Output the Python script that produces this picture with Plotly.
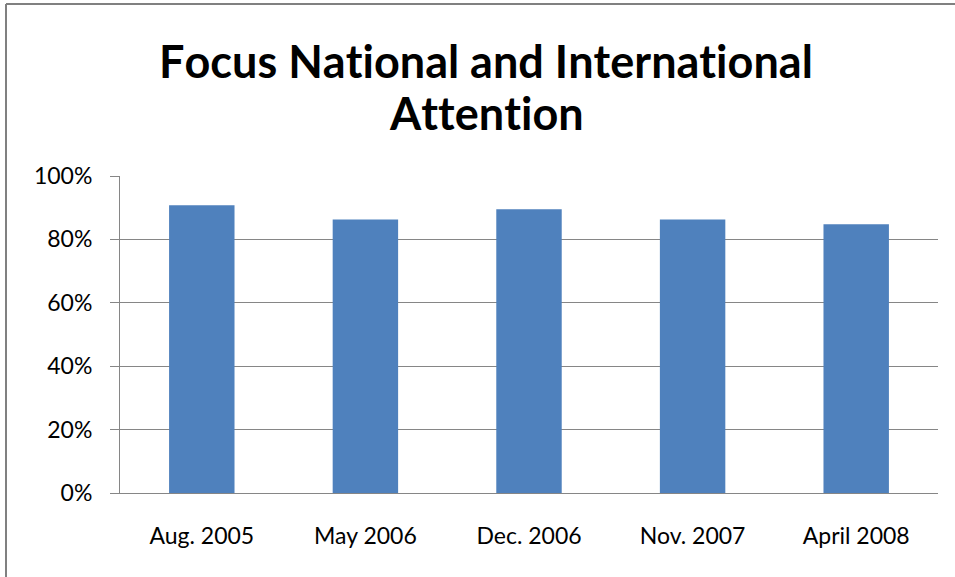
import plotly.graph_objects as go

categories = ["Aug. 2005", "May 2006", "Dec. 2006", "Nov. 2007", "April 2008"]
values = [0.908, 0.863, 0.895, 0.863, 0.848]
y_ticks = [0, 0.2, 0.4, 0.6, 0.8, 1.0]
y_tick_labels = ["0%", "20%", "40%", "60%", "80%", "100%"]
ZWNJ = "\u200c"
title_line1 = "Focus National and International"
title_line2 = "Attention"

def no_lig(s):
    return ZWNJ.join(list(s))

W, H = 955, 577
L, R, T, B = 120, 938, 176, 493

def px_x(p):
    return (p - L) / (R - L)

def px_y(p):
    return (B - p) / (B - T)

fig = go.Figure()
fig.add_trace(go.Bar(
    x=categories, y=values,
    marker=dict(color="#4F81BD", line=dict(color="#4F81BD", width=0)),
    width=0.4,
))

grid_color = "#868686"
fig.update_layout(
    width=W, height=H,
    margin=dict(l=L, r=W - R, t=T, b=H - B, pad=0),
    paper_bgcolor="white", plot_bgcolor="white",
    showlegend=False,
    font=dict(family="Lato", color="#000000"),
    xaxis=dict(
        showgrid=False, showline=True, linecolor=grid_color, linewidth=1,
        ticks="", tickfont=dict(size=23, family="Lato", color="#000000"),
        ticklabelstandoff=22,
    ),
    yaxis=dict(
        range=[0, 1.0], tickvals=y_ticks, ticktext=y_tick_labels,
        showgrid=True, gridcolor=grid_color, gridwidth=1,
        showline=True, linecolor=grid_color, linewidth=1,
        ticks="outside", ticklen=9, tickcolor=grid_color,
        tickfont=dict(size=23, family="Lato", color="#000000"),
        ticklabelstandoff=13,
        zeroline=False,
    ),
)

fig.add_annotation(
    text=no_lig(title_line1), xref="paper", yref="paper",
    x=px_x(486), y=px_y(61), xanchor="center", yanchor="middle",
    showarrow=False, align="center",
    font=dict(family="Lato", size=45, color="#000000", weight="bold"),
)
fig.add_annotation(
    text=no_lig(title_line2), xref="paper", yref="paper",
    x=px_x(486), y=px_y(113), xanchor="center", yanchor="middle",
    showarrow=False, align="center",
    font=dict(family="Lato", size=45, color="#000000", weight="bold"),
)

# outer frame (left and top edges visible)
fig.add_shape(type="line", xref="paper", yref="paper",
              x0=px_x(6), x1=px_x(6), y0=px_y(580), y1=px_y(4),
              line=dict(color="#808080", width=2))
fig.add_shape(type="line", xref="paper", yref="paper",
              x0=px_x(6), x1=px_x(960), y0=px_y(4), y1=px_y(4),
              line=dict(color="#808080", width=2))

fig.write_html("out.html", config={"displayModeBar": False},
               post_script="document.body.style.margin='0';")
